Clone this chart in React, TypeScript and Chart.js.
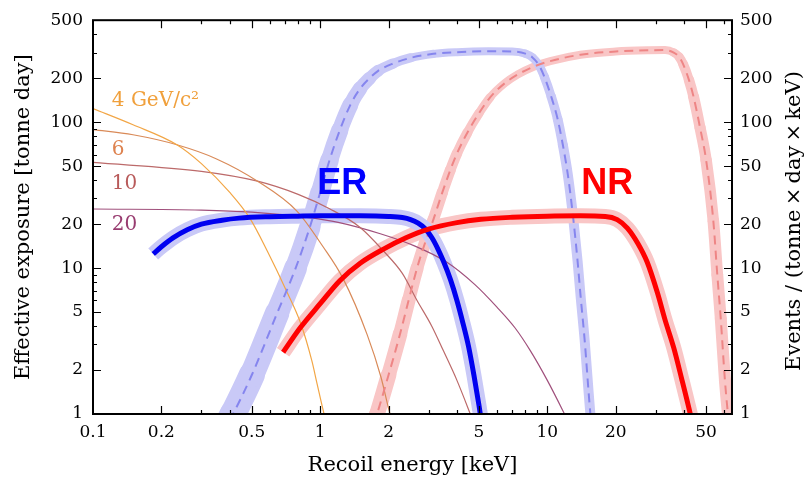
import { useEffect, useRef } from "react";
import { Chart, registerables } from "chart.js";

Chart.register(...registerables);

const SERIF = "'DejaVu Serif', 'Liberation Serif', serif";
const SANS = "'Liberation Sans', Arial, sans-serif";

// ---- axes ----
const xMin = 0.1;
const xMax = 65;
const yMin = 1;
const yMax = 500;
const xTickValues = [0.1, 0.2, 0.5, 1, 2, 5, 10, 20, 50];
const yTickValues = [1, 2, 5, 10, 20, 50, 100, 200, 500];
const xMinorTicks = [0.3, 0.4, 0.6, 0.7, 0.8, 0.9, 3, 4, 6, 7, 8, 9, 30, 40, 60];
const yMinorTicks = [3, 4, 6, 7, 8, 9, 30, 40, 60, 70, 80, 90, 300, 400];

// ---- ER effective exposure (solid blue) ----
const erExpE = [0.184, 0.2, 0.225, 0.26, 0.3, 0.37, 0.44, 0.6, 0.8, 1.0, 1.5, 2.0, 2.3, 2.5, 2.7, 2.9, 3.1, 3.3, 3.5, 3.75, 4.0, 4.25, 4.5, 4.75, 5.0, 5.15];
const erExpVal = [12.5, 14.0, 16.1, 18.3, 20.0, 21.3, 22.0, 22.5, 22.7, 22.8, 22.8, 22.6, 22.2, 21.5, 20.3, 18.6, 16.2, 13.5, 11.0, 8.3, 6.0, 4.2, 2.9, 1.85, 1.15, 0.85];

// ---- NR effective exposure (solid red) ----
const nrExpE = [0.687, 0.817, 1.0, 1.22, 1.5, 1.9, 2.4, 3.0, 4.0, 5.1, 7, 10, 14, 18, 20.3, 22.5, 25, 27.5, 30.5, 33, 36, 39, 42.6, 44];
const nrExpVal = [2.65, 3.9, 5.7, 8.2, 10.8, 13.5, 16.2, 18.5, 20.5, 21.6, 22.3, 22.7, 22.8, 22.6, 21.5, 18.8, 14.8, 11.0, 6.8, 4.4, 2.85, 1.75, 1.0, 0.8];

// ---- ER event rate (dashed blue) ----
const erRateE = [0.40, 0.414, 0.5, 0.646, 0.78, 0.9, 1.0, 1.1, 1.22, 1.36, 1.5, 1.65, 1.8, 2.09, 2.5, 3.15, 4.0, 5.5, 7.0, 8.0, 8.6, 9.2, 9.7, 10.4, 11.1, 11.7, 12.3, 13.0, 13.6, 14.0, 14.6, 15.2, 15.6];
const erRateVal = [0.9, 1.0, 1.85, 4.9, 10, 19, 33, 55, 88, 132, 170, 200, 225, 252, 276, 294, 302, 306, 305, 295, 278, 245, 205, 150, 105, 70, 44, 22, 11, 6.5, 3.2, 1.4, 0.85];

// ---- NR event rate (dashed red) ----
const nrRateE = [1.72, 1.78, 2.0, 2.25, 2.45, 2.67, 2.9, 3.15, 3.45, 3.74, 4.0, 4.45, 5.0, 5.6, 6.5, 7.4, 8.8, 10.3, 14, 20, 28, 33, 36, 38, 39.6, 42, 44, 47, 50, 53.8, 56, 58, 60.5, 62, 63];
const nrRateVal = [0.85, 1.0, 1.85, 3.56, 6.0, 10, 15, 21.5, 33, 47, 61, 85, 115, 148, 185, 212, 242, 262, 290, 305, 311, 312, 300, 280, 250, 195, 150, 92, 55, 21, 9, 4.5, 1.7, 1.1, 0.85];

// ---- WIMP spectra ----
const w4E = [0.1, 0.15, 0.234, 0.3, 0.4, 0.49, 0.585, 0.71, 0.82, 0.92, 0.97, 1.04, 1.08];
const w4Val = [124, 96, 70, 52, 33, 22, 13.1, 7.0, 4.2, 2.3, 1.6, 1.0, 0.8];
const w6E = [0.1, 0.15, 0.234, 0.35, 0.53, 0.79, 1.03, 1.26, 1.61, 1.85, 2.03, 2.1];
const w6Val = [89, 82, 70, 56, 39.4, 24.6, 14, 8.5, 3.5, 1.8, 1.0, 0.85];
const w10E = [0.1, 0.3, 0.53, 0.8, 1.1, 1.5, 1.9, 2.3, 2.67, 3.1, 3.48, 4.0, 4.58, 4.7];
const w10Val = [53, 46, 39.4, 32, 25.5, 19, 13.1, 9.2, 6.0, 4.0, 2.73, 1.7, 1.0, 0.9];
const w20E = [0.1, 0.3, 0.5, 0.84, 1.2, 1.84, 2.6, 3.6, 4.8, 6.0, 7.2, 8.4, 10, 11.9, 12.3];
const w20Val = [25.4, 25.0, 24.2, 22.4, 20.6, 17.2, 14.2, 11.0, 7.7, 5.4, 3.9, 2.73, 1.7, 1.0, 0.9];

// ---- labels ----
const wimpLabelText = ["4 GeV/c²", "6", "10", "20"];
const wimpLabelColor = ["#f0a03c", "#de8350", "#b85a5a", "#983c70"];
const wimpLabelE = 0.121;
const wimpLabelVal = [130, 60, 34.7, 18.2];
const regionLabelText = ["ER", "NR"];
const regionLabelColor = ["#0000ff", "#ff0000"];
const regionLabelE = [0.97, 14.1];
const regionLabelVal = 32;

// ---- band widths (style, px) vs energy ----
const erRateBandStops: [number, number][] = [[0.41, 27], [0.8, 22], [1.2, 17], [2.0, 10], [3.0, 8], [8, 8], [12, 10]];
const nrRateBandStops: [number, number][] = [[1.8, 16], [3, 12], [6, 8], [35, 8], [45, 11], [60, 12]];

function widthAt(x: number, stops: [number, number][]) {
  if (x <= stops[0][0]) return stops[0][1];
  for (let i = 1; i < stops.length; i++) {
    if (x <= stops[i][0]) {
      const a = Math.log(stops[i - 1][0]);
      const b = Math.log(stops[i][0]);
      const t = (Math.log(x) - a) / (b - a);
      return stops[i - 1][1] + t * (stops[i][1] - stops[i - 1][1]);
    }
  }
  return stops[stops.length - 1][1];
}

function pts(xs: number[], ys: number[]) {
  return xs.map((x, i) => ({ x, y: ys[i] }));
}

function lineDS(label: string, xs: number[], ys: number[], color: string, width: number, order: number, extra: any = {}) {
  return {
    label,
    data: pts(xs, ys),
    borderColor: color,
    backgroundColor: color,
    borderWidth: width,
    pointRadius: 0,
    pointHoverRadius: 0,
    fill: false,
    cubicInterpolationMode: "monotone",
    clip: 0,
    order,
    borderCapStyle: "butt",
    borderJoinStyle: "round",
    ...extra,
  };
}

const bandBlue = "#c9c9f7";
const bandRed = "#f9c6c6";

const framePlugin = {
  id: "frameTicks",
  afterDatasetsDraw(chart: any) {
    const { ctx, chartArea: a, scales } = chart;
    const sx = scales.x;
    const sy = scales.y;
    ctx.save();
    ctx.strokeStyle = "#000";
    ctx.lineWidth = 1.2;
    ctx.beginPath();
    const drawX = (vals: number[], len: number) => {
      vals.forEach((v) => {
        if (v <= xMin || v >= xMax) return;
        const p = Math.round(sx.getPixelForValue(v)) + 0.5;
        ctx.moveTo(p, a.bottom);
        ctx.lineTo(p, a.bottom - len);
        ctx.moveTo(p, a.top);
        ctx.lineTo(p, a.top + len);
      });
    };
    const drawY = (vals: number[], len: number) => {
      vals.forEach((v) => {
        if (v <= yMin || v >= yMax) return;
        const p = Math.round(sy.getPixelForValue(v)) + 0.5;
        ctx.moveTo(a.left, p);
        ctx.lineTo(a.left + len, p);
        ctx.moveTo(a.right, p);
        ctx.lineTo(a.right - len, p);
      });
    };
    drawX(xTickValues, 8);
    drawX(xMinorTicks, 4);
    drawY(yTickValues, 8);
    drawY(yMinorTicks, 4);
    ctx.stroke();
    ctx.lineWidth = 2;
    ctx.strokeRect(a.left, a.top, a.right - a.left, a.bottom - a.top);
    ctx.restore();
  },
};

const textPlugin = {
  id: "texts",
  afterDatasetsDraw(chart: any) {
    const { ctx, scales } = chart;
    const sx = scales.x;
    const sy = scales.y;
    ctx.save();
    ctx.textAlign = "left";
    ctx.textBaseline = "alphabetic";
    ctx.font = `20px ${SERIF}`;
    wimpLabelText.forEach((t, i) => {
      ctx.fillStyle = wimpLabelColor[i];
      ctx.fillText(t, sx.getPixelForValue(wimpLabelE), sy.getPixelForValue(wimpLabelVal[i]));
    });
    ctx.font = `bold 36px ${SANS}`;
    regionLabelText.forEach((t, i) => {
      ctx.fillStyle = regionLabelColor[i];
      ctx.fillText(t, sx.getPixelForValue(regionLabelE[i]), sy.getPixelForValue(regionLabelVal));
    });
    ctx.restore();
  },
  afterDraw(chart: any) {
    const { ctx, chartArea: a, width } = chart;
    ctx.save();
    ctx.font = `21px ${SERIF}`;
    ctx.fillStyle = "#000";
    ctx.textAlign = "center";
    ctx.textBaseline = "middle";
    ctx.translate(width - 16, (a.top + a.bottom) / 2 + 4);
    ctx.rotate(-Math.PI / 2);
    ctx.fillText("Events / (tonne\u2009×\u2009day\u2009×\u2009keV)", 0, 0);
    ctx.restore();
  },
};

export default function App() {
  const ref = useRef<HTMLCanvasElement>(null);
  useEffect(() => {
    const tickFont = { family: SERIF, size: 17 };
    const datasets: any[] = [
      lineDS("ER rate band", erRateE, erRateVal, bandBlue, 8, 10, {
        borderCapStyle: "round",
        segment: {
          borderWidth: (c: any) => widthAt((c.p0.parsed.x + c.p1.parsed.x) / 2, erRateBandStops),
        },
      }),
      lineDS("NR rate band", nrRateE, nrRateVal, bandRed, 8, 10, {
        borderCapStyle: "round",
        segment: {
          borderWidth: (c: any) => widthAt((c.p0.parsed.x + c.p1.parsed.x) / 2, nrRateBandStops),
        },
      }),
      lineDS("ER exposure band", erExpE, erExpVal, bandBlue, 15, 9),
      lineDS("NR exposure band", nrExpE, nrExpVal, bandRed, 15, 9),
      lineDS("4 GeV", w4E, w4Val, "#f2a646", 1.2, 5),
      lineDS("6 GeV", w6E, w6Val, "#d98a58", 1.2, 5),
      lineDS("10 GeV", w10E, w10Val, "#bc6a6a", 1.2, 5),
      lineDS("20 GeV", w20E, w20Val, "#a0507c", 1.2, 5),
      lineDS("ER rate", erRateE, erRateVal, "#8585ee", 2, 3, { borderDash: [9, 6] }),
      lineDS("NR rate", nrRateE, nrRateVal, "#ee8585", 2, 3, { borderDash: [9, 6] }),
      lineDS("ER exposure", erExpE, erExpVal, "#0000f0", 5, 1),
      lineDS("NR exposure", nrExpE, nrExpVal, "#ff0000", 5, 0),
    ];
    const chart = new Chart(ref.current!, {
      type: "line",
      data: { datasets },
      options: {
        animation: false,
        responsive: true,
        maintainAspectRatio: false,
        layout: { padding: { top: 18, left: 0, right: 0, bottom: 0 } },
        plugins: { legend: { display: false }, tooltip: { enabled: false } },
        scales: {
          x: {
            type: "logarithmic",
            position: "bottom",
            min: xMin,
            max: xMax,
            grid: { display: false, drawTicks: false },
            border: { display: false },
            afterBuildTicks: (s: any) => {
              s.ticks = xTickValues.map((v) => ({ value: v }));
            },
            afterFit: (s: any) => {
              s.height = 67;
            },
            ticks: {
              autoSkip: false,
              maxRotation: 0,
              padding: 8,
              color: "#000",
              font: tickFont,
              callback: (v: any) => String(v),
            },
            title: {
              display: true,
              text: "Recoil energy [keV]",
              color: "#000",
              font: { family: SERIF, size: 21 },
              padding: { top: 0, bottom: 3 },
            },
          },
          y: {
            type: "logarithmic",
            position: "left",
            min: yMin,
            max: yMax,
            grid: { display: false, drawTicks: false },
            border: { display: false },
            afterBuildTicks: (s: any) => {
              s.ticks = yTickValues.map((v) => ({ value: v }));
            },
            afterFit: (s: any) => {
              s.width = 93;
            },
            ticks: {
              autoSkip: false,
              padding: 10,
              color: "#000",
              font: tickFont,
              callback: (v: any) => String(v),
            },
            title: {
              display: true,
              text: "Effective exposure [tonne day]",
              color: "#000",
              font: { family: SERIF, size: 21 },
              padding: { top: 11, bottom: 0 },
            },
          },
          y2: {
            type: "logarithmic",
            position: "right",
            min: yMin,
            max: yMax,
            grid: { display: false, drawTicks: false },
            border: { display: false },
            afterBuildTicks: (s: any) => {
              s.ticks = yTickValues.map((v) => ({ value: v }));
            },
            afterFit: (s: any) => {
              s.width = 79;
            },
            ticks: {
              autoSkip: false,
              padding: 8,
              color: "#000",
              font: tickFont,
              callback: (v: any) => String(v),
            },
          },
        },
      } as any,
      plugins: [textPlugin, framePlugin],
    });
    return () => chart.destroy();
  }, []);
  return (
    <div style={{ position: "fixed", left: 0, top: 0, width: 811, height: 481, background: "#fff" }}>
      <canvas ref={ref} />
    </div>
  );
}
